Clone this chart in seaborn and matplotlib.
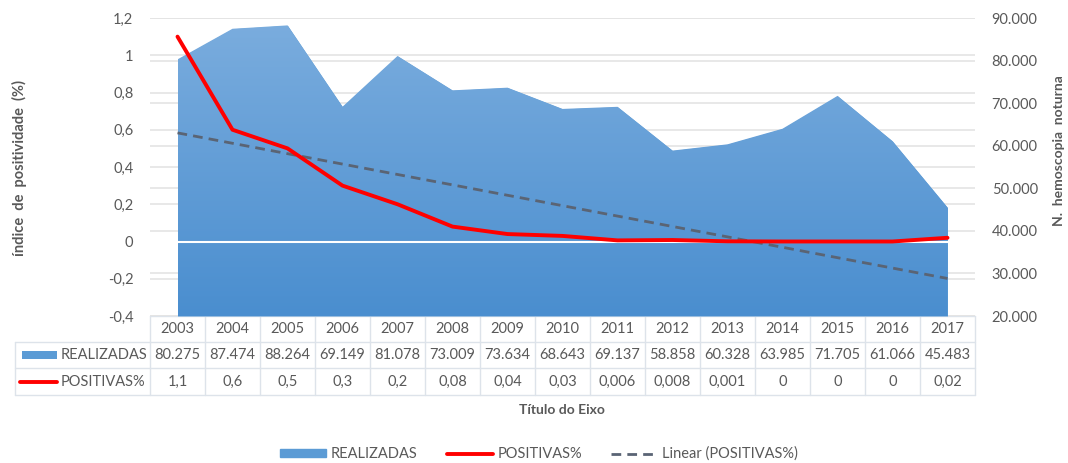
import numpy as np
import pandas as pd
import matplotlib
matplotlib.use("Agg")
import matplotlib.pyplot as plt
import seaborn as sns
from matplotlib.lines import Line2D
from matplotlib.patches import Patch, Rectangle
from matplotlib.colors import LinearSegmentedColormap

# Data
anos = [2003, 2004, 2005, 2006, 2007, 2008, 2009, 2010, 2011, 2012, 2013, 2014, 2015, 2016, 2017]
realizadas = [80275, 87474, 88264, 69149, 81078, 73009, 73634, 68643, 69137, 58858, 60328, 63985, 71705, 61066, 45483]
positivas = [1.1, 0.6, 0.5, 0.3, 0.2, 0.08, 0.04, 0.03, 0.006, 0.008, 0.001, 0, 0, 0, 0.02]
positivas_txt = ["1,1", "0,6", "0,5", "0,3", "0,2", "0,08", "0,04", "0,03", "0,006", "0,008", "0,001", "0", "0", "0", "0,02"]
left_ticks = [-0.4, -0.2, 0, 0.2, 0.4, 0.6, 0.8, 1, 1.2]
right_ticks = [20000, 30000, 40000, 50000, 60000, 70000, 80000, 90000]

df = pd.DataFrame({"ano": anos, "idx": range(len(anos)), "realizadas": realizadas, "positivas": positivas})

sns.set_style("white")
plt.rcParams["font.family"] = ["Lato", "DejaVu Sans"]

W, H = 1068, 463
fig = plt.figure(figsize=(W / 100, H / 100), dpi=100)
txt = "#595959"
grid_c = "#e4e4e4"
blue = "#5b9bd5"


def fx(px):
    return px / W


def fy(py):
    return 1 - py / H


L, R, T, B = 150, 975, 18, 316
rect = [fx(L), fy(B), fx(R) - fx(L), fy(T) - fy(B)]

# left axis (gridlines only + ticks)
ax = fig.add_axes(rect, zorder=1)
ax.set_xlim(-0.5, len(anos) - 0.5)
ax.set_ylim(-0.4, 1.2)
ax.set_yticks(left_ticks)
ax.set_yticklabels([("%g" % v).replace(".", ",") for v in left_ticks])
ax.grid(axis="y", color=grid_c, lw=1.2)
ax.set_xticks([])
for s in ax.spines.values():
    s.set_visible(False)
ax.tick_params(axis="y", length=0, labelsize=10.5, labelcolor=txt, pad=12)

# right axis: area
ax2 = fig.add_axes(rect, zorder=2, sharex=ax)
ax2.patch.set_visible(False)
ax2.yaxis.tick_right()
ax2.set_ylim(20000, 90000)
ax2.set_yticks(right_ticks)
ax2.set_yticklabels([f"{v:,}".replace(",", ".") for v in right_ticks])
ax2.set_axisbelow(True)
ax2.grid(axis="y", color=grid_c, lw=1.2)
for s in ax2.spines.values():
    s.set_visible(False)
ax2.tick_params(axis="y", length=0, labelsize=10.5, labelcolor=txt, pad=12)
ax2.set_xticks([])

poly = ax2.fill_between(df["idx"], realizadas, 20000, color=blue, lw=0, zorder=2)
cmap = LinearSegmentedColormap.from_list("g", ["#4a8ecf", "#7badde"])
grad = np.linspace(0, 1, 256).reshape(-1, 1)
im = ax2.imshow(grad, cmap=cmap, origin="lower", aspect="auto",
                extent=[0, len(anos) - 1, 20000, 90000], zorder=2.1)
im.set_clip_path(poly.get_paths()[0], transform=ax2.transData)
ax2.set_xlim(-0.5, len(anos) - 0.5)
ax2.set_ylim(20000, 90000)

# top axis: lines on left scale
ax3 = fig.add_axes(rect, zorder=3, sharex=ax, sharey=ax)
ax3.patch.set_visible(False)
ax3.axhline(0, color="white", lw=1.5, zorder=1)
sns.regplot(data=df, x="idx", y="positivas", scatter=False, ci=None, truncate=True, ax=ax3,
            line_kws=dict(color="#5a6474", lw=2.0, ls=(0, (3.5, 2.2)), zorder=2))
sns.lineplot(data=df, x="idx", y="positivas", ax=ax3, color="#ff0000", lw=2.8, zorder=3)
ax3.set_xlim(-0.5, len(anos) - 0.5)
ax3.set_ylim(-0.4, 1.2)
ax3.axis("off")

# axis titles
fig.text(fx(19), fy(168), "índice  de  positividade  (%)", rotation=90, ha="center", va="center",
         fontsize=10.5, fontweight="bold", color=txt)
fig.text(fx(1059), fy(151), "N.  hemoscopia  noturna", rotation=90, ha="center", va="center",
         fontsize=10, fontweight="bold", color=txt)

# data table
ct = "#dde3ea"
ftbl = 10.5
colw = (R - L) / len(anos)
rows = [316, 342, 368, 395]
fig.add_artist(Line2D([fx(L), fx(R)], [fy(rows[0]), fy(rows[0])], color=ct, lw=1))
for y in rows[1:]:
    fig.add_artist(Line2D([fx(15), fx(R)], [fy(y), fy(y)], color=ct, lw=1))
for k in range(len(anos) + 1):
    x = L + k * colw
    fig.add_artist(Line2D([fx(x), fx(x)], [fy(rows[0]), fy(rows[3])], color=ct, lw=1))
fig.add_artist(Line2D([fx(15), fx(15)], [fy(rows[1]), fy(rows[3])], color=ct, lw=1))

for k, a in enumerate(anos):
    xc = fx(L + (k + 0.5) * colw)
    fig.text(xc, fy(329), str(a), ha="center", va="center", fontsize=ftbl, color=txt)
    fig.text(xc, fy(355), f"{realizadas[k]:,}".replace(",", "."), ha="center", va="center", fontsize=ftbl, color=txt)
    fig.text(xc, fy(382), positivas_txt[k], ha="center", va="center", fontsize=ftbl, color=txt)

fig.add_artist(Rectangle((fx(22), fy(359)), fx(57) - fx(22), fy(351) - fy(359), color=blue, lw=0))
fig.add_artist(Line2D([fx(20), fx(57)], [fy(382), fy(382)], color="#ff0000", lw=2.8))
fig.text(fx(61), fy(355), "REALIZADAS", ha="left", va="center", fontsize=ftbl, color=txt)
fig.text(fx(61), fy(382), "POSITIVAS%", ha="left", va="center", fontsize=ftbl, color=txt)

fig.text(fx(562), fy(410), "Título do Eixo", ha="center", va="center", fontsize=10, fontweight="bold", color=txt)

handles = [Patch(color=blue, label="REALIZADAS"),
           Line2D([], [], color="#ff0000", lw=2.8, label="POSITIVAS%"),
           Line2D([], [], color="#5a6474", lw=2.0, ls=(0, (3.5, 2.2)), label="Linear (POSITIVAS%)")]
leg = fig.legend(handles=handles, loc="center", bbox_to_anchor=(fx(539), fy(454)), ncol=3, frameon=False,
                 fontsize=10.5, handlelength=3.2, handleheight=0.5, columnspacing=2.0, handletextpad=0.3)
for t in leg.get_texts():
    t.set_color(txt)

fig.savefig("out.png", dpi=100)
